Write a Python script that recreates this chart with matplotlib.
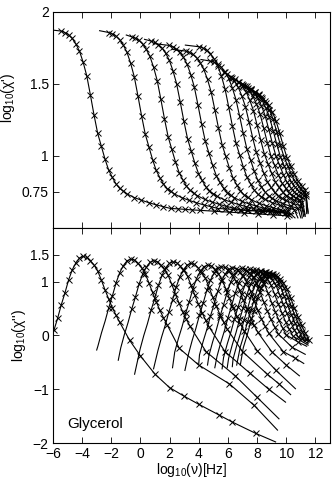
import matplotlib
matplotlib.use('Agg')
import matplotlib.pyplot as plt
import numpy as np

plt.rcParams['font.family'] = ['Liberation Sans', 'DejaVu Sans']
plt.rcParams['mathtext.fontset'] = 'custom'
plt.rcParams['mathtext.rm'] = 'Liberation Sans'
plt.rcParams['mathtext.it'] = 'Liberation Sans:italic'

# --- values ---
# loss peak of every temperature (log10 nu, log10 chi'')
peak_x = [-3.93, -0.67, 0.90, 2.23, 3.45, 4.60, 5.55, 6.30, 6.95, 7.50, 7.95, 8.30, 8.60, 8.85, 9.05]
peak_y = [1.47, 1.42, 1.39, 1.37, 1.34, 1.31, 1.28, 1.26, 1.25, 1.23, 1.21, 1.20, 1.18, 1.16, 1.14]

# shape of a loss peak round its maximum (offset in decades, drop in log10 chi'')
loss_off = [-2.25, -2.0, -1.75, -1.5, -1.25, -1.0, -0.75, -0.5, -0.25, 0.0,
            0.25, 0.5, 0.75, 1.0, 1.25, 1.5, 1.75, 2.0, 2.25, 2.5]
loss_rel = [-1.62, -1.37, -1.15, -0.90, -0.68, -0.44, -0.25, -0.12, -0.03, 0.0,
            -0.015, -0.08, -0.16, -0.27, -0.44, -0.62, -0.79, -0.95, -1.09, -1.22]

# where the measured points start, and where the low frequency fit line ends
data_from = [-6.2, -2.2, -0.65, 0.7, 1.9, 3.05, 4.0, 4.75, 5.4, 5.95, 6.4, 6.75, 7.05, 7.3, 7.5]
lo_x = [-6.4, -3.00, -1.52, -0.40, 0.90, 2.20, 3.05, 4.00, 4.60, 5.10, 5.60, 5.95, 6.30, 6.60, 6.85]
lo_y = [-0.50, -0.27, -0.46, -0.72, -0.62, -0.60, -0.65, -0.52, -0.55, -0.60, -0.62, -0.60, -0.58, -0.55, -0.55]

# high frequency wings of chi''
tail_x = [[-0.74, 0.0, 1.0, 2.0, 3.0, 4.0, 5.4, 6.3, 7.9, 9.27],
          [2.67, 4.0, 6.1, 7.8, 9.4],
          [4.5, 6.5, 8.0, 9.5],
          [5.8, 7.5, 8.8, 9.95],
          [7.0, 8.7, 9.5, 10.3],
          [8.0, 9.3, 10.63],
          [9.0, 10.0, 10.9],
          [9.8, 10.6, 11.2],
          [10.4, 11.3],
          [10.8, 11.4],
          [11.5],
          [11.5],
          [11.55],
          [11.6],
          []]
tail_y = [[-0.09, -0.38, -0.72, -0.97, -1.13, -1.28, -1.48, -1.61, -1.82, -1.98],
          [-0.24, -0.55, -0.90, -1.30, -1.76],
          [-0.30, -0.75, -1.15, -1.55],
          [-0.30, -0.70, -1.00, -1.24],
          [-0.30, -0.72, -0.90, -1.10],
          [-0.28, -0.65, -0.99],
          [-0.30, -0.55, -0.75],
          [-0.30, -0.42, -0.52],
          [-0.22, -0.35],
          [-0.12, -0.20],
          [-0.18],
          [-0.15],
          [-0.12],
          [-0.10],
          []]

# chi': upper and lower plateau, start of the fit line and its last point
high_lev = [1.88, 1.87, 1.84, 1.81, 1.78, 1.74, 1.77, 1.67, 1.60, 1.56, 1.53, 1.51, 1.49, 1.47, 1.45]
low_lev = [0.61, 0.61, 0.60, 0.60, 0.59, 0.58, 0.58, 0.58, 0.59, 0.60, 0.60, 0.61, 0.62, 0.63, 0.64]
start_x = [-6.5, -2.8, -0.97, 0.28, 0.96, 2.21, 3.08, 4.15, 5.6, 6.0, 6.6, 6.9, 7.2, 7.5, 7.7]
end_x = [10.5, 10.3, 10.0, 10.2, 10.4, 10.6, 10.8, 11.0, 11.1, 11.2, 11.3, 11.3, 11.4, 11.5, 11.5]
end_y = [0.60, 0.60, 0.58, 0.58, 0.57, 0.57, 0.57, 0.57, 0.57, 0.58, 0.58, 0.59, 0.60, 0.60, 0.61]

# shape of the chi' step (offset from loss peak, fraction of the step still left)
step_off = [-1.5, -1.25, -1.0, -0.75, -0.5, -0.25, 0.0, 0.25, 0.5, 0.75, 1.0, 1.25, 1.5,
            1.75, 2.0, 2.25, 2.5, 2.75, 3.0, 3.5, 4.0, 4.5, 5.0, 5.5, 6.0, 6.5, 7.0,
            7.5, 8.0, 9.0, 10.0, 11.0, 12.0, 13.0, 14.0]
step_frac = [0.99, 0.982, 0.97, 0.95, 0.92, 0.88, 0.82, 0.745, 0.64, 0.53, 0.43, 0.36, 0.29,
             0.23, 0.19, 0.155, 0.13, 0.115, 0.10, 0.08, 0.065, 0.052, 0.04, 0.03, 0.02, 0.018, 0.015,
             0.012, 0.01, 0.005, 0.0, -0.005, -0.01, -0.015, -0.02]

fig = plt.figure(figsize=(3.33, 4.83), dpi=100)
ax1 = fig.add_axes([0.159, 0.528, 0.832, 0.4472])
ax2 = fig.add_axes([0.159, 0.0828, 0.832, 0.4452], sharex=ax1)

mk = dict(marker='x', ms=3.8, mew=0.7, ls='none', color='k')

for i in range(len(peak_x)):
    # real part
    xs = peak_x[i] + np.array(step_off)
    ys = low_lev[i] + np.array(step_frac) * (high_lev[i] - low_lev[i])
    keep = (xs > start_x[i]) & (xs < end_x[i])
    ax1.plot(np.r_[start_x[i], xs[keep], end_x[i]], np.r_[high_lev[i], ys[keep], end_y[i]],
             'k-', lw=0.8)
    ax1.plot(xs[keep], ys[keep], **mk)

    # imaginary part
    xs = peak_x[i] + np.array(loss_off)
    ys = peak_y[i] + np.array(loss_rel)
    keep = xs > lo_x[i]
    lx = np.r_[lo_x[i], xs[keep], tail_x[i]]
    ly = np.r_[lo_y[i], ys[keep], tail_y[i]]
    ax2.plot(lx, ly, 'k-', lw=0.8)
    dm = xs >= data_from[i]
    ax2.plot(xs[dm], ys[dm], **mk)
    if len(tail_x[i]) > 1:
        ax2.plot(tail_x[i][:-1], tail_y[i][:-1], **mk)

ax1.set_xlim(-6, 13)
ax1.set_ylim(0.5, 2)
ax1.set_yticks([0.75, 1, 1.5, 2])
ax1.set_yticklabels(['0.75', '1', '1.5', '2'])
ax2.set_ylim(-2, 2)
ax2.set_yticks([-2, -1, 0, 1, 1.5])
ax2.set_yticklabels(['\u22122', '\u22121', '0', '1', '1.5'])
ax2.set_xticks([-6, -4, -2, 0, 2, 4, 6, 8, 10, 12])
ax2.set_xticklabels(['\u22126', '\u22124', '\u22122', '0', '2', '4', '6', '8', '10', '12'])
plt.setp(ax1.get_xticklabels(), visible=False)

for ax in (ax1, ax2):
    ax.tick_params(direction='in', length=4, width=0.6, top=True, right=True,
                   labelsize=10, pad=3)
    for s in ax.spines.values():
        s.set_linewidth(0.8)

ax1.set_ylabel("log$_{10}$(\u03c7')", fontsize=10)
ax1.yaxis.set_label_coords(-0.13, 0.6)
ax2.set_ylabel("log$_{10}$(\u03c7'')", fontsize=10)
ax2.yaxis.set_label_coords(-0.09, 0.5)
ax2.set_xlabel("log$_{10}$(\u03bd)[Hz]", fontsize=10)
ax2.xaxis.set_label_coords(0.5, -0.085)

ax2.text(-5.0, -1.64, 'Glycerol', fontsize=11, ha='left', va='center')

fig.savefig('out.png', dpi=100)
